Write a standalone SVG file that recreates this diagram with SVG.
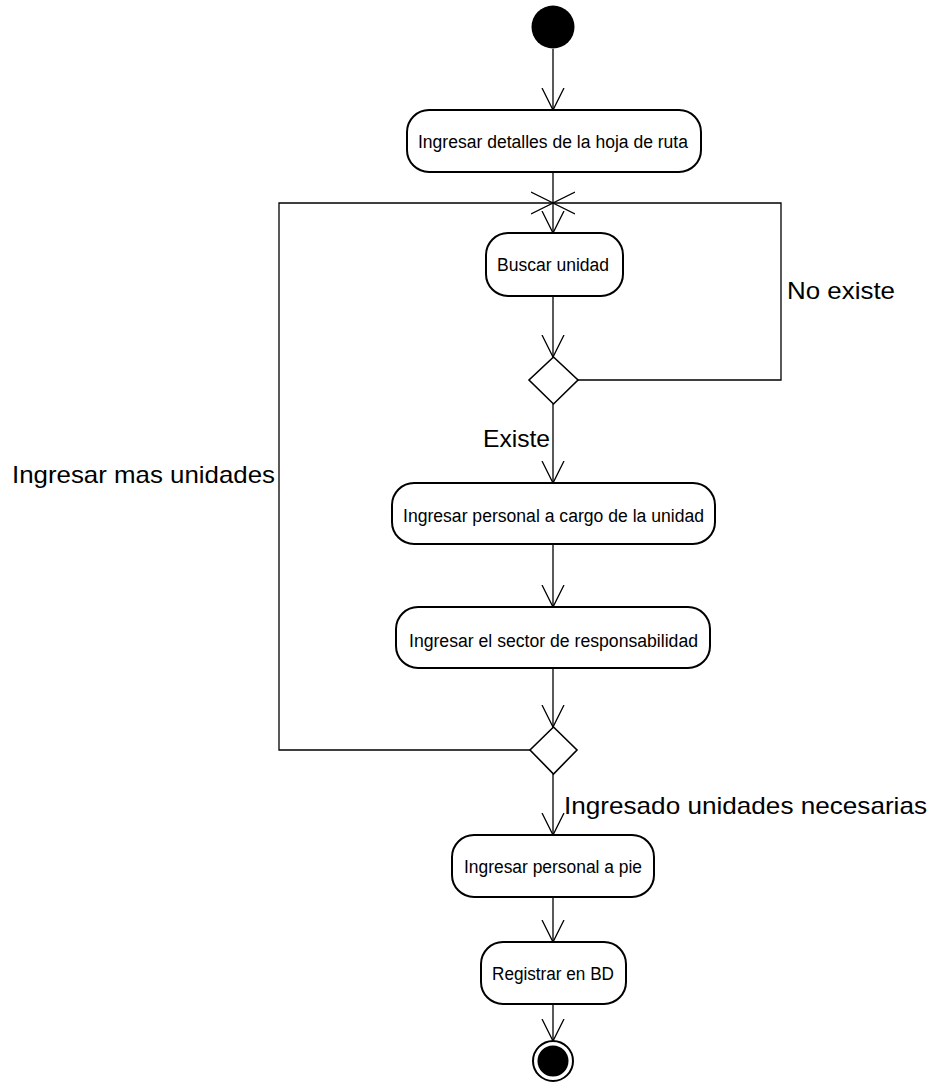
<svg xmlns="http://www.w3.org/2000/svg" width="933" height="1082" viewBox="0 0 933 1082">
  <style>
    .act { fill: #ffffff; stroke: #000000; stroke-width: 2; }
    .dec { fill: #ffffff; stroke: #000000; stroke-width: 1.6; }
    .edge { fill: none; stroke: #000000; stroke-width: 1.3; }
    .atxt { font-family: "Liberation Sans", Arial, sans-serif; font-size: 18px; fill: #000000; text-anchor: start; }
    .ltxt { font-family: "Liberation Sans", Arial, sans-serif; font-size: 24px; fill: #000000; text-anchor: start; }
  </style>
  <defs>
    <marker id="open" viewBox="0 0 24 24" refX="22" refY="12" markerWidth="24" markerHeight="24" markerUnits="userSpaceOnUse" orient="auto">
      <path d="M0,1 L22,12 L0,23" fill="none" stroke="#000000" stroke-width="1.3"/>
    </marker>
  </defs>

  <rect width="933" height="1082" fill="#ffffff"/>

  <!-- connectors -->
  <g id="connectors">
    <line class="edge" x1="553" y1="49" x2="553" y2="110" marker-end="url(#open)"/>
    <line class="edge" x1="553" y1="172" x2="553" y2="233" marker-end="url(#open)"/>
    <line class="edge" x1="553" y1="296" x2="553" y2="357" marker-end="url(#open)"/>
    <line class="edge" x1="553" y1="404" x2="553" y2="483" marker-end="url(#open)"/>
    <line class="edge" x1="553" y1="544" x2="553" y2="607" marker-end="url(#open)"/>
    <line class="edge" x1="553" y1="668" x2="553" y2="727" marker-end="url(#open)"/>
    <line class="edge" x1="553" y1="774" x2="553" y2="835" marker-end="url(#open)"/>
    <line class="edge" x1="553" y1="897" x2="553" y2="942" marker-end="url(#open)"/>
    <line class="edge" x1="553" y1="1004" x2="553" y2="1041" marker-end="url(#open)"/>
    <!-- "No existe" loop back to the search -->
    <polyline class="edge" points="578,380 781,380 781,203 553,203" marker-end="url(#open)"/>
    <!-- "Ingresar mas unidades" loop back to the search -->
    <polyline class="edge" points="530,750 279,750 279,203 553,203" marker-end="url(#open)"/>
    <text class="ltxt" x="787" y="299" textLength="108" lengthAdjust="spacingAndGlyphs">No existe</text>
    <text class="ltxt" x="483" y="447" textLength="67" lengthAdjust="spacingAndGlyphs">Existe</text>
    <text class="ltxt" x="12" y="483" textLength="263" lengthAdjust="spacingAndGlyphs">Ingresar mas unidades</text>
    <text class="ltxt" x="564" y="814" textLength="363" lengthAdjust="spacingAndGlyphs">Ingresado unidades necesarias</text>
  </g>

  <g id="start">
    <circle cx="553" cy="27" r="21.5" fill="#000000"/>
  </g>

  <g id="detalles">
    <rect class="act" x="407" y="110" width="294" height="62" rx="22" ry="22"/>
    <text class="atxt" x="418" y="148" textLength="270" lengthAdjust="spacingAndGlyphs">Ingresar detalles de la hoja de ruta</text>
  </g>

  <g id="buscar">
    <rect class="act" x="486" y="233" width="137" height="63" rx="22" ry="22"/>
    <text class="atxt" x="497" y="271" textLength="112" lengthAdjust="spacingAndGlyphs">Buscar unidad</text>
  </g>

  <g id="decision-existe">
    <polygon class="dec" points="553.5,357 578,380 553.5,404 529,380"/>
  </g>

  <g id="personal-cargo">
    <rect class="act" x="392" y="483" width="323" height="61" rx="22" ry="22"/>
    <text class="atxt" x="403" y="522" textLength="301" lengthAdjust="spacingAndGlyphs">Ingresar personal a cargo de la unidad</text>
  </g>

  <g id="sector">
    <rect class="act" x="396" y="607" width="314" height="61" rx="22" ry="22"/>
    <text class="atxt" x="409" y="647" textLength="289" lengthAdjust="spacingAndGlyphs">Ingresar el sector de responsabilidad</text>
  </g>

  <g id="decision-mas">
    <polygon class="dec" points="553.5,727 577,750 553.5,774 530,750"/>
  </g>

  <g id="personal-pie">
    <rect class="act" x="452" y="835" width="202" height="62" rx="22" ry="22"/>
    <text class="atxt" x="464" y="873" textLength="178" lengthAdjust="spacingAndGlyphs">Ingresar personal a pie</text>
  </g>

  <g id="registrar">
    <rect class="act" x="481" y="942" width="145" height="62" rx="22" ry="22"/>
    <text class="atxt" x="492" y="980" textLength="122" lengthAdjust="spacingAndGlyphs">Registrar en BD</text>
  </g>

  <g id="end">
    <circle cx="553" cy="1061" r="20" fill="#ffffff" stroke="#000000" stroke-width="2"/>
    <circle cx="553" cy="1061" r="15.5" fill="#000000"/>
  </g>
</svg>
